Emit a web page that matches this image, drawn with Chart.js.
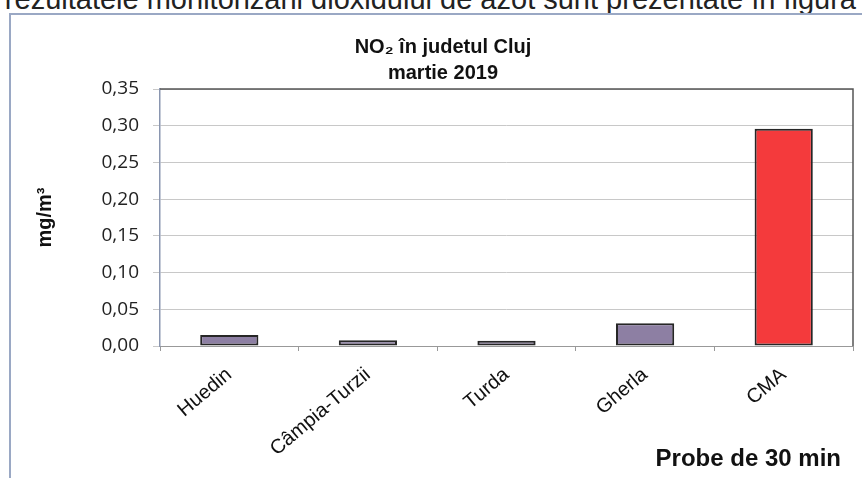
<!DOCTYPE html>
<html>
<head>
<meta charset="utf-8">
<script src="https://cdn.jsdelivr.net/npm/chart.js@4"></script>
<style>
  html, body { margin: 0; padding: 0; background: #fff; }
  #page { position: relative; width: 862px; height: 478px; overflow: hidden; }
  #topText {
    position: absolute; right: 6px; top: -15px; white-space: nowrap;
    font: 29px "Liberation Sans", Arial, sans-serif; line-height: 1; color: #222;
  }
  #frame {
    position: absolute; left: 9px; top: 13px; width: 900px; height: 520px;
    border: 2px solid #9aa8c4;
  }
  #chartBox { position: absolute; left: 0; top: 0; width: 862px; height: 478px; }
</style>
</head>
<body>
<div id="page">
  <div id="topText">rezultatele monitorizării dioxidului de azot sunt prezentate în figura</div>
  <div id="frame"></div>
  <div id="chartBox"><canvas id="no2Chart" width="862" height="478"></canvas></div>
</div>
<script>
const stations = ["Huedin", "Câmpia-Turzii", "Turda", "Gherla", "CMA"];
const no2Values = [0.015, 0.008, 0.007, 0.031, 0.296];
const barColors = ["#8d7fa3", "#8d7fa3", "#8d7fa3", "#8d7fa3", "#f43a3c"];
const chartTitle = ["NO₂ în judetul Cluj", "martie 2019"];
const yAxisTitle = "mg/m³";
const xAxisTitle = "Probe de 30 min\u2002";

// top and right border of the plot area
const plotFrame = {
  id: "plotFrame",
  afterDraw(chart) {
    const { ctx, chartArea: a } = chart;
    ctx.save();
    ctx.strokeStyle = "#555";
    ctx.lineWidth = 1.5;
    ctx.beginPath();
    ctx.moveTo(a.left, a.top);
    ctx.lineTo(a.right, a.top);
    ctx.lineTo(a.right, a.bottom);
    ctx.stroke();
    ctx.restore();
  },
};

const ctx = document.getElementById("no2Chart").getContext("2d");
new Chart(ctx, {
  type: "bar",
  data: {
    labels: stations,
    datasets: [
      {
        data: no2Values,
        backgroundColor: barColors,
        borderColor: "#262626",
        borderWidth: 2,
        borderSkipped: false,
        categoryPercentage: 1,
        barPercentage: 0.42,
      },
    ],
  },
  options: {
    responsive: false,
    animation: false,
    devicePixelRatio: 1,
    layout: { padding: { left: 33, right: 9, top: 0, bottom: 0 } },
    plugins: {
      legend: { display: false },
      tooltip: { enabled: false },
      title: {
        display: true,
        text: chartTitle,
        color: "#111",
        font: { family: "Liberation Sans", size: 20, weight: "bold", lineHeight: 1.3 },
        padding: { top: 34, bottom: 3 },
      },
    },
    scales: {
      x: {
        afterFit: (scale) => { scale.height = 132; },
        grid: {
          offset: true,
          drawOnChartArea: false,
          drawTicks: true,
          tickLength: 5,
          color: "#999",
        },
        border: { color: "#999", width: 1 },
        ticks: {
          minRotation: 40,
          maxRotation: 40,
          color: "#111",
          padding: 12,
          font: { family: "Liberation Sans", size: 20 },
        },
        title: {
          display: true,
          text: xAxisTitle,
          align: "end",
          color: "#111",
          font: { family: "Liberation Sans", size: 24, weight: "bold" },
          padding: { top: 0, bottom: 4 },
        },
      },
      y: {
        min: 0,
        max: 0.35,
        afterFit: (scale) => { scale.width = 127; },
        grid: { color: "#c8c8c8", tickLength: 7, lineWidth: 1 },
        border: { color: "#8a96b0", width: 1.5 },
        ticks: {
          stepSize: 0.05,
          color: "#222",
          padding: 14,
          font: { family: "Open Sans", size: 19 },
          callback: (v) => v.toFixed(2).replace(".", ","),
        },
        title: {
          display: true,
          text: yAxisTitle,
          color: "#111",
          font: { family: "Liberation Sans", size: 20, weight: "bold" },
          padding: 0,
        },
      },
    },
  },
  plugins: [plotFrame],
});
</script>
</body>
</html>
